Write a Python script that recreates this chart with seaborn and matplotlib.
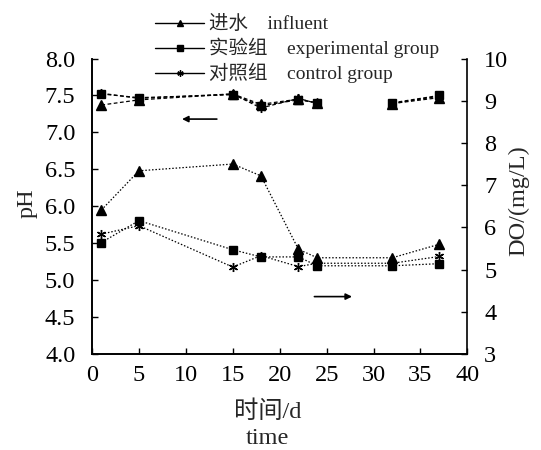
import matplotlib
matplotlib.use("Agg")
import matplotlib.pyplot as plt
from matplotlib.lines import Line2D
import numpy as np
import pandas as pd
import seaborn as sns

# Sampling days
days = [1, 5, 15, 18, 22, 24, 32, 37]

# pH (left axis)
ph_influent = [7.37, 7.44, 7.52, 7.38, 7.45, 7.40, 7.39, 7.47]
ph_experimental = [7.52, 7.47, 7.51, 7.36, 7.44, 7.40, 7.40, 7.50]
ph_control = [7.53, 7.46, 7.52, 7.33, 7.46, 7.39, 7.39, 7.49]

# Dissolved oxygen (right axis)
do_influent = [6.41, 7.34, 7.50, 7.22, 5.48, 5.28, 5.28, 5.60]
do_experimental = [5.64, 6.16, 5.47, 5.30, 5.30, 5.09, 5.09, 5.14]
do_control = [5.84, 6.04, 5.06, 5.33, 5.07, 5.15, 5.15, 5.31]

series_names = ["进水    influent", "实验组    experimental group", "对照组    control group"]
markers = ["^", "s", (6, 2, 0)]
marker_sizes = [6.5, 5.5, 6.5]

x_ticks = [0, 5, 10, 15, 20, 25, 30, 35, 40]
ph_ticks = [4.0, 4.5, 5.0, 5.5, 6.0, 6.5, 7.0, 7.5, 8.0]
do_ticks = [3, 4, 5, 6, 7, 8, 9, 10]

sns.set_style("ticks")
plt.rcParams["font.family"] = ["Liberation Serif", "Noto Sans CJK SC"]
plt.rcParams["axes.unicode_minus"] = False

fig = plt.figure(figsize=(5.41, 4.5), dpi=100)
ax = fig.add_axes([0.170, 0.2133, 0.694, 0.6567])
ax2 = ax.twinx()

ph_sets = [ph_influent, ph_experimental, ph_control]
do_sets = [do_influent, do_experimental, do_control]

for name, ph_vals, do_vals, mk, ms in zip(series_names, ph_sets, do_sets, markers, marker_sizes):
    df = pd.DataFrame({"day": days, "pH": ph_vals, "DO": do_vals})
    # pH was not recorded between day 24 and day 32, so the line is broken there
    for part in (df[df["day"] <= 24], df[df["day"] >= 32]):
        sns.lineplot(data=part, x="day", y="pH", ax=ax, color="black",
                     linewidth=0.9, linestyle=(0, (3, 2)), marker=mk,
                     markersize=ms, markeredgecolor="black",
                     markerfacecolor="black", markeredgewidth=1.0,
                     legend=False, errorbar=None)
    sns.lineplot(data=df, x="day", y="DO", ax=ax2, color="black",
                 linewidth=0.9, linestyle=(0, (1.2, 1.5)), marker=mk,
                 markersize=ms, markeredgecolor="black",
                 markerfacecolor="black", markeredgewidth=1.0,
                 legend=False, errorbar=None)

ax.set_xlim(0, 40)
ax.set_ylim(4.0, 8.0)
ax2.set_ylim(3, 10)
ax.set_xticks(x_ticks)
ax.set_xticklabels([str(t) for t in x_ticks])
ax.set_yticks(ph_ticks)
ax.set_yticklabels([f"{t:.1f}" for t in ph_ticks])
ax2.set_yticks(do_ticks)
ax2.set_yticklabels([str(t) for t in do_ticks])

for a in (ax, ax2):
    for s in a.spines.values():
        s.set_linewidth(1.2)
        s.set_color("black")
ax.spines["top"].set_visible(False)
ax2.spines["top"].set_visible(False)
ax.spines["right"].set_visible(False)

ax.tick_params(axis="both", direction="in", length=4, width=1.0,
               labelsize=17.5, colors="black", pad=8)
ax.tick_params(axis="y", pad=12)
ax2.tick_params(axis="y", direction="in", length=4, width=1.0,
                labelsize=17.5, colors="black", pad=12)

ax.set_xlabel("")
ax.set_ylabel("pH", fontsize=17.5)
ax2.set_ylabel("DO/(mg/L)", fontsize=17.5)
ax.yaxis.set_label_coords(-0.145, 0.51)
ax2.yaxis.set_label_coords(1.108, 0.52)

fig.text(0.495, 0.086, "时间/d", ha="center", va="center", fontsize=17.5)
fig.text(0.495, 0.026, "time", ha="center", va="center", fontsize=17.5)

# Arrows pointing to the axis each group of curves belongs to
ax.annotate("", xy=(9.3, 7.18), xytext=(13.6, 7.18),
            arrowprops=dict(arrowstyle="-|>", color="black", lw=1.2,
                            mutation_scale=9))
ax2.annotate("", xy=(28.0, 4.36), xytext=(23.4, 4.36),
             arrowprops=dict(arrowstyle="-|>", color="black", lw=1.2,
                             mutation_scale=9))

handles = [Line2D([0], [0], color="black", lw=1.0, marker=mk,
                  markersize=4.5, markerfacecolor="black",
                  markeredgecolor="black") for mk in markers]
fig.legend(handles, series_names, loc="upper left",
           bbox_to_anchor=(0.287, 0.966), frameon=False, fontsize=14,
           handlelength=2.5, handletextpad=0.25, labelspacing=0.24,
           borderpad=0, borderaxespad=0)

fig.savefig("out.png", dpi=100)
